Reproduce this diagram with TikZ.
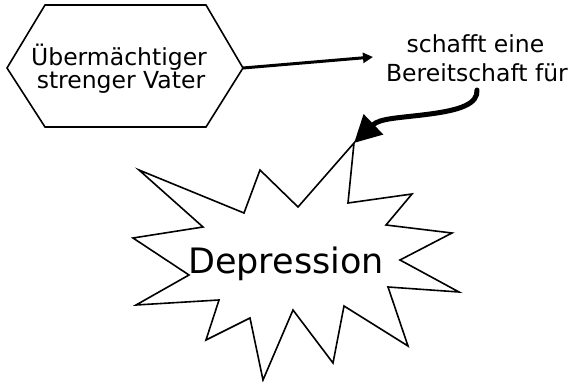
\documentclass[tikz,border=0pt]{standalone}
\usepackage{fontspec}
\setmainfont{DejaVu Sans}
\usetikzlibrary{arrows.meta}
\begin{document}
\begin{tikzpicture}[x=1pt,y=-1pt,
  shapeline/.style={draw=black,line width=1.6pt,line join=miter},
  lbl/.style={inner sep=0pt,anchor=base,font=\fontsize{23.5}{28}\selectfont},
  biglbl/.style={inner sep=0pt,anchor=base,font=\fontsize{35}{40}\selectfont},
  straightarrow/.style={line width=3pt,-{Triangle[length=10pt,width=10pt]}},
  curvedarrow/.style={line width=5pt,line cap=round,-{Triangle[length=27pt,width=27pt]}}]
\useasboundingbox[fill=white] (0,0) rectangle (576,382);
% hexagon
\coordinate (hL) at (7,68);
\coordinate (hR) at (243,68);
\draw[shapeline] (hL) -- (45,5) -- (206,5) -- (hR) -- (206,127) -- (45,127) -- cycle;
\node[lbl] (v1) at (119,65.5) {Übermächtiger};
\node[lbl] (v2) at (121,89) {strenger Vater};
% label
\node[lbl] (s1) at (475.5,53) {schafft eine};
\node[lbl] (s2) at (477,82) {Bereitschaft für};
\coordinate (a1end) at (373,57);
\draw[straightarrow] (hR) -- (a1end);
% starburst
\coordinate (top) at (354,143);
\draw[shapeline] (top) -- (348,203) -- (412,194) -- (386,225) -- (452,233) -- (400,260)
  -- (459,292) -- (388,287) -- (408,346) -- (344,306) -- (333,363) -- (293,310)
  -- (263,380) -- (250,318) -- (206,340) -- (219,300) -- (136,305) -- (189,275)
  -- (133,238) -- (203,227) -- (139,170) -- (244,213) -- (260,170) -- (298,207) -- cycle;
\node[biglbl] (dep) at (286,274) {Depression};
% curved arrow
\coordinate (cstart) at (477,90);
\draw[curvedarrow] (cstart) .. controls (478,104) and (460,110) .. (430,114)
  .. controls (400,118) and (380,118) .. (top);
\end{tikzpicture}
\end{document}
